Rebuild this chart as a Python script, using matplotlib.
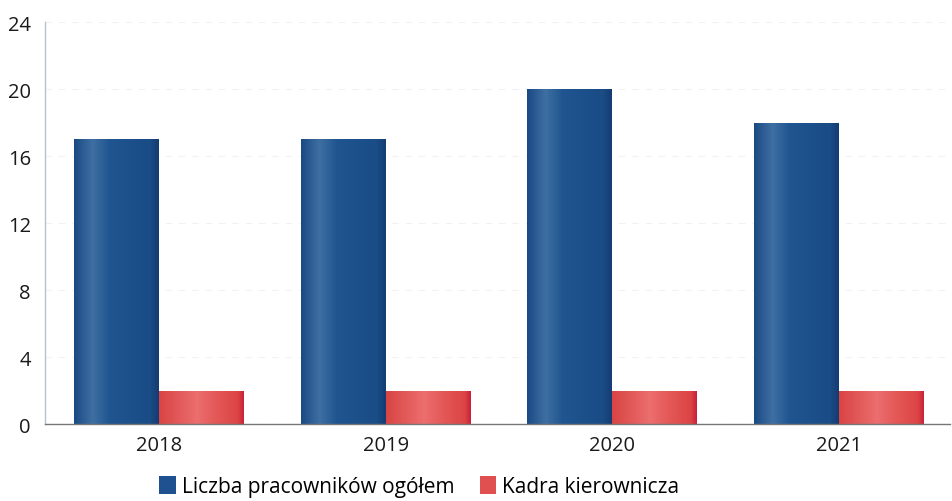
import matplotlib.pyplot as plt
import numpy as np
from matplotlib.colors import LinearSegmentedColormap
from matplotlib.patches import Patch

years = ['2018', '2019', '2020', '2021']
total_staff = [17, 17, 20, 18]
management = [2, 2, 2, 2]

plt.rcParams['font.family'] = ['Open Sans', 'DejaVu Sans']

blue_cmap = LinearSegmentedColormap.from_list(
    'blue', [(0, '#1a4a84'), (0.22, '#3f6fa2'), (0.42, '#1f5590'),
             (0.9, '#1a4c86'), (1, '#143c72')])
red_cmap = LinearSegmentedColormap.from_list(
    'red', [(0, '#d94444'), (0.45, '#ec6e6e'), (0.65, '#e55a5a'),
            (0.93, '#dc4444'), (1, '#c8203a')])


def gradient_bars(ax, bars, cmap):
    grad = np.linspace(0, 1, 256).reshape(1, -1)
    for b in bars:
        x, y = b.get_x(), b.get_y()
        w, h = b.get_width(), b.get_height()
        im = ax.imshow(grad, cmap=cmap, aspect='auto', extent=(x, x + w, y, y + h),
                       zorder=b.get_zorder() + 0.1, interpolation='bicubic')
        im.set_clip_path(b)
        b.set_alpha(0)


fig = plt.figure(figsize=(9.53, 5.02), dpi=100)
ax = fig.add_axes([0.047, 0.153, 0.95, 0.801])

x = np.arange(len(years))
width = 0.375

b1 = ax.bar(x - width / 2, total_staff, width, color='#1d4f88', zorder=2)
b2 = ax.bar(x + width / 2, management, width, color='#e05050', zorder=2)
gradient_bars(ax, b1, blue_cmap)
gradient_bars(ax, b2, red_cmap)

ax.set_xlim(-0.505, 3.49)
ax.set_ylim(0, 24)
ax.set_yticks(np.arange(0, 25, 4))
ax.set_xticks(x)
ax.set_xticklabels(years)
ax.tick_params(axis='both', length=0, labelsize=14.5, colors='#1a1a1a')
ax.tick_params(axis='x', pad=8)
ax.tick_params(axis='y', pad=10)

ax.yaxis.grid(True, color='#f2f2f2', linestyle=(0, (6, 6)), linewidth=0.8, zorder=0)
ax.set_axisbelow(True)

for s in ['top', 'right']:
    ax.spines[s].set_visible(False)
ax.spines['left'].set_color('#b8bfd6')
ax.spines['left'].set_linewidth(1)
ax.spines['bottom'].set_color('#777777')
ax.spines['bottom'].set_linewidth(1)

handles = [Patch(facecolor='#1f5190', label='Liczba pracowników ogółem'),
           Patch(facecolor='#e05050', label='Kadra kierownicza')]
fig.legend(handles=handles, loc='lower center', bbox_to_anchor=(0.44, -0.03), ncol=2,
           frameon=False, fontsize=15, handlelength=0.8, handleheight=1.0,
           handletextpad=0.3, columnspacing=1.2)

plt.savefig('out.png', dpi=100)
